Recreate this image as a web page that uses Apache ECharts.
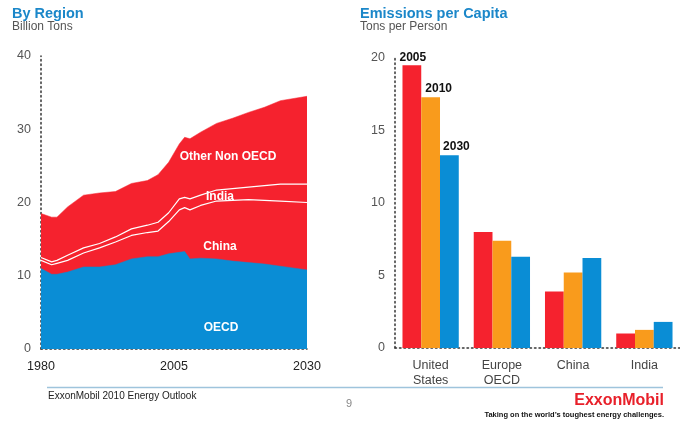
<!DOCTYPE html>
<html>
<head>
<meta charset="utf-8">
<script src="https://cdn.jsdelivr.net/npm/echarts@6/dist/echarts.min.js"></script>
<style>
html,body{margin:0;padding:0;background:#fff;}
#chart{width:680px;height:422px;}
</style>
</head>
<body>
<div id="chart"></div>
<script>
// ---- Left chart: By Region (Billion Tons), stacked components ----
var years = [1980,1982,1983,1985,1988,1991,1994,1997,2000,2002,2004,2006,2007,2008,2010,2013,2016,2019,2022,2025,2030];
var oecd  = [11.0,10.2,10.2,10.5,11.2,11.2,11.5,12.3,12.6,12.6,13.0,13.2,13.3,12.3,12.4,12.3,12.0,11.8,11.6,11.3,10.8];
var china = [1.1,1.3,1.5,1.6,1.9,2.6,3.1,3.2,3.3,3.5,4.4,5.8,6.0,6.7,7.2,7.9,8.3,8.6,8.7,8.9,9.2];
var india = [0.4,0.4,0.4,0.7,0.7,0.6,0.7,0.9,1.0,1.2,1.2,1.5,1.4,1.5,1.4,1.5,1.6,1.7,2.0,2.3,2.5];
var otherNonOecd = [6.0,6.1,5.9,6.6,7.2,6.9,6.2,6.2,6.1,6.5,6.9,7.5,8.2,8.2,8.6,9.1,9.6,10.2,10.7,11.4,12.0];
var leftYearTicks = [1980,2005,2030];

// ---- Right chart: Emissions per Capita (Tons per Person) ----
var regions = ['United\nStates','Europe\nOECD','China','India'];
var perCapitaYears = ['2005','2010','2030'];
var pc2005 = [19.5,8.0,3.9,1.0];
var pc2010 = [17.3,7.4,5.2,1.25];
var pc2030 = [13.3,6.3,6.2,1.8];

var RED = '#F5222E', ORANGE = '#F99B1C', BLUE = '#0A8DD5';
var FONT = '"Liberation Sans", Arial, Helvetica, sans-serif';

// cumulative tops of the stack
function addArr(a, b){ return a.map(function(v,i){ return Math.round((v + b[i])*100)/100; }); }
var topOecd = oecd.slice();
var topChina = addArr(topOecd, china);
var topIndia = addArr(topChina, india);
var topOther = addArr(topIndia, otherNonOecd);

function pair(xs, ys){ return xs.map(function(x,i){ return [x, ys[i]]; }); }

var chart = echarts.init(document.getElementById('chart'), null, {renderer:'canvas'});

var dotted = {show:true, lineStyle:{color:'#333', width:1.5, type:[1.5,3]}};

var leftSeries = [
  {name:'Other Non OECD', data: pair(years, topOther), color: RED, line: 0, z: 2},
  {name:'India', data: pair(years, topIndia), color: RED, line: 1.2, z: 3},
  {name:'China', data: pair(years, topChina), color: RED, line: 1.2, z: 4},
  {name:'OECD', data: pair(years, topOecd), color: BLUE, line: 0, z: 5}
].map(function(s){
  return {
    type:'line', name:s.name, xAxisIndex:0, yAxisIndex:0,
    data:s.data, showSymbol:false, symbol:'none', z:s.z,
    lineStyle:{color: s.line ? '#fff' : s.color, width: s.line ? s.line : 0.5},
    areaStyle:{color:s.color, opacity:1},
    itemStyle:{color:s.color},
    emphasis:{disabled:true}, silent:true
  };
});

function barSeries(name, vals, color, off){
  return {
    type:'bar', name:name, xAxisIndex:1, yAxisIndex:1,
    data: vals.map(function(v,i){
      return i === 0 ? {value:v, label:{show:true, position:'top', distance:2, offset:[off,0],
        formatter:name, fontFamily:FONT, fontWeight:'bold', fontSize:12, color:'#111'}} : v;
    }),
    itemStyle:{color:color}, barGap:'0%', barCategoryGap:'21%',
    emphasis:{disabled:true}, silent:true
  };
}

var option = {
  animation:false,
  textStyle:{fontFamily:FONT},
  grid:[
    {left:41, right:373, top:56, bottom:73},
    {left:395, right:0, top:58, bottom:74}
  ],
  xAxis:[
    {type:'value', gridIndex:0, min:1980, max:2030,
     axisLine:dotted, axisTick:{show:false}, splitLine:{show:false},
     axisLabel:{customValues:leftYearTicks, formatter:function(v){ return String(v); },
       color:'#222', fontSize:12.5, margin:11, fontFamily:FONT}},
    {type:'category', gridIndex:1, data:regions,
     axisLine:dotted, axisTick:{show:false}, splitLine:{show:false},
     axisLabel:{color:'#444', fontSize:12.5, lineHeight:15, margin:10, fontFamily:FONT, interval:0}}
  ],
  yAxis:[
    {type:'value', gridIndex:0, min:0, max:40, interval:10,
     axisLine:dotted, axisTick:{show:false}, splitLine:{show:false},
     axisLabel:{color:'#555', fontSize:12.5, margin:10, fontFamily:FONT}},
    {type:'value', gridIndex:1, min:0, max:20, interval:5,
     axisLine:dotted, axisTick:{show:false}, splitLine:{show:false},
     axisLabel:{color:'#555', fontSize:12.5, margin:10, fontFamily:FONT}}
  ],
  series: leftSeries.concat([
    barSeries(perCapitaYears[0], pc2005, RED, 1),
    barSeries(perCapitaYears[1], pc2010, ORANGE, 8),
    barSeries(perCapitaYears[2], pc2030, BLUE, 7)
  ]),
  graphic:[
    {type:'text', left:12, top:6, style:{text:'By Region', fill:'#1B87C9', font:'bold 14.5px '+FONT}},
    {type:'text', left:12, top:21, style:{text:'Billion Tons', fill:'#555', font:'12px '+FONT}},
    {type:'text', left:360, top:6, style:{text:'Emissions per Capita', fill:'#1B87C9', font:'bold 14.5px '+FONT}},
    {type:'text', left:360, top:21, style:{text:'Tons per Person', fill:'#555', font:'12px '+FONT}},
    {type:'text', x:228, y:157, z:100, style:{text:'Other Non OECD', fill:'#fff', font:'bold 12px '+FONT, align:'center', verticalAlign:'middle'}},
    {type:'text', x:220, y:197, z:100, style:{text:'India', fill:'#fff', font:'bold 12px '+FONT, align:'center', verticalAlign:'middle'}},
    {type:'text', x:220, y:247, z:100, style:{text:'China', fill:'#fff', font:'bold 12px '+FONT, align:'center', verticalAlign:'middle'}},
    {type:'text', x:221, y:328, z:100, style:{text:'OECD', fill:'#fff', font:'bold 12px '+FONT, align:'center', verticalAlign:'middle'}},
    {type:'line', shape:{x1:47, y1:387.5, x2:663, y2:387.5}, style:{stroke:'#9EC4DC', lineWidth:1.5}},
    {type:'text', x:48, y:396, style:{text:'ExxonMobil 2010 Energy Outlook', fill:'#222', font:'10px '+FONT, verticalAlign:'middle'}},
    {type:'text', x:349, y:404, style:{text:'9', fill:'#888', font:'11px '+FONT, align:'center', verticalAlign:'middle'}},
    {type:'text', x:664, y:401, style:{text:'ExxonMobil', fill:'#E8202A', font:'bold 16px '+FONT, align:'right', verticalAlign:'middle'}},
    {type:'text', x:664, y:415, style:{text:'Taking on the world\u2019s toughest energy challenges.', fill:'#111', font:'bold 7.5px '+FONT, align:'right', verticalAlign:'middle'}}
  ]
};
chart.setOption(option);
</script>
</body>
</html>
